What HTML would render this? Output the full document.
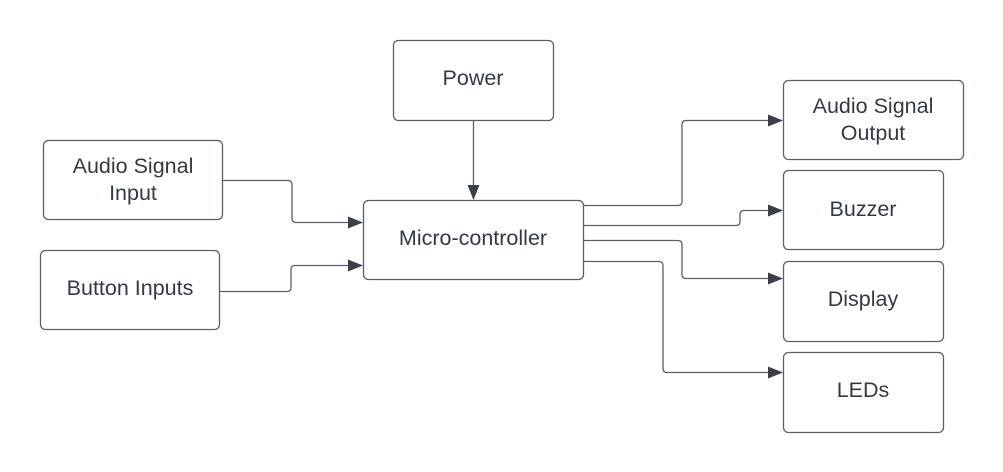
<!DOCTYPE html>
<html><head><meta charset="utf-8"><style>
html,body{margin:0;padding:0;background:#fff;width:1003px;height:472px;overflow:hidden}
svg text{font-family:"Liberation Sans",sans-serif;font-size:21.5px;fill:#333a44;text-anchor:middle;dominant-baseline:central}
</style></head><body>
<svg width="1003" height="472" viewBox="0 0 1003 472">
<defs><marker id="a" markerWidth="15" markerHeight="12" refX="14" refY="6" orient="auto" markerUnits="userSpaceOnUse"><path d="M0,0 L15,6 L0,12 Z" fill="#3a3f48"/></marker></defs>
<g fill="#fff" stroke="#5a5f68" stroke-width="1.3">
<rect x="393.5" y="40.5" width="160" height="80" rx="5"/>
<rect x="43.5" y="140.5" width="179" height="79" rx="5"/>
<rect x="40.5" y="250.5" width="179" height="79" rx="5"/>
<rect x="363.5" y="200.5" width="220" height="79" rx="5"/>
<rect x="783.5" y="80.5" width="180" height="79" rx="5"/>
<rect x="783.5" y="170.5" width="160" height="79" rx="5"/>
<rect x="783.5" y="261.5" width="160" height="80" rx="5"/>
<rect x="783.5" y="352.5" width="160" height="80" rx="5"/>
</g>
<g fill="none" stroke="#5a5f68" stroke-width="1.3">
<path d="M473.5,121 V199" marker-end="url(#a)"/>
<path d="M223,180.5 H288 Q292,180.5 292,184.5 V218.5 Q292,222.5 296,222.5 H362" marker-end="url(#a)"/>
<path d="M220,291.5 H287 Q291,291.5 291,287.5 V269.5 Q291,265.5 295,265.5 H362" marker-end="url(#a)"/>
<path d="M584,205.5 H678 Q682,205.5 682,201.5 V124.5 Q682,120.5 686,120.5 H782" marker-end="url(#a)"/>
<path d="M584,225.5 H736 Q740,225.5 740,221.5 V214.5 Q740,210.5 744,210.5 H782" marker-end="url(#a)"/>
<path d="M584,240.5 H678 Q682,240.5 682,244.5 V274.5 Q682,278.5 686,278.5 H782" marker-end="url(#a)"/>
<path d="M584,261.5 H659 Q663,261.5 663,265.5 V368.5 Q663,372.5 667,372.5 H782" marker-end="url(#a)"/>
</g>
<text x="473" y="78">Power</text>
<text x="133" y="166">Audio Signal</text>
<text x="133" y="193">Input</text>
<text x="130" y="288">Button Inputs</text>
<text x="473" y="238">Micro-controller</text>
<text x="873" y="106">Audio Signal</text>
<text x="873" y="133">Output</text>
<text x="863" y="209">Buzzer</text>
<text x="863" y="299">Display</text>
<text x="863" y="390">LEDs</text>
</svg>
</body></html>
